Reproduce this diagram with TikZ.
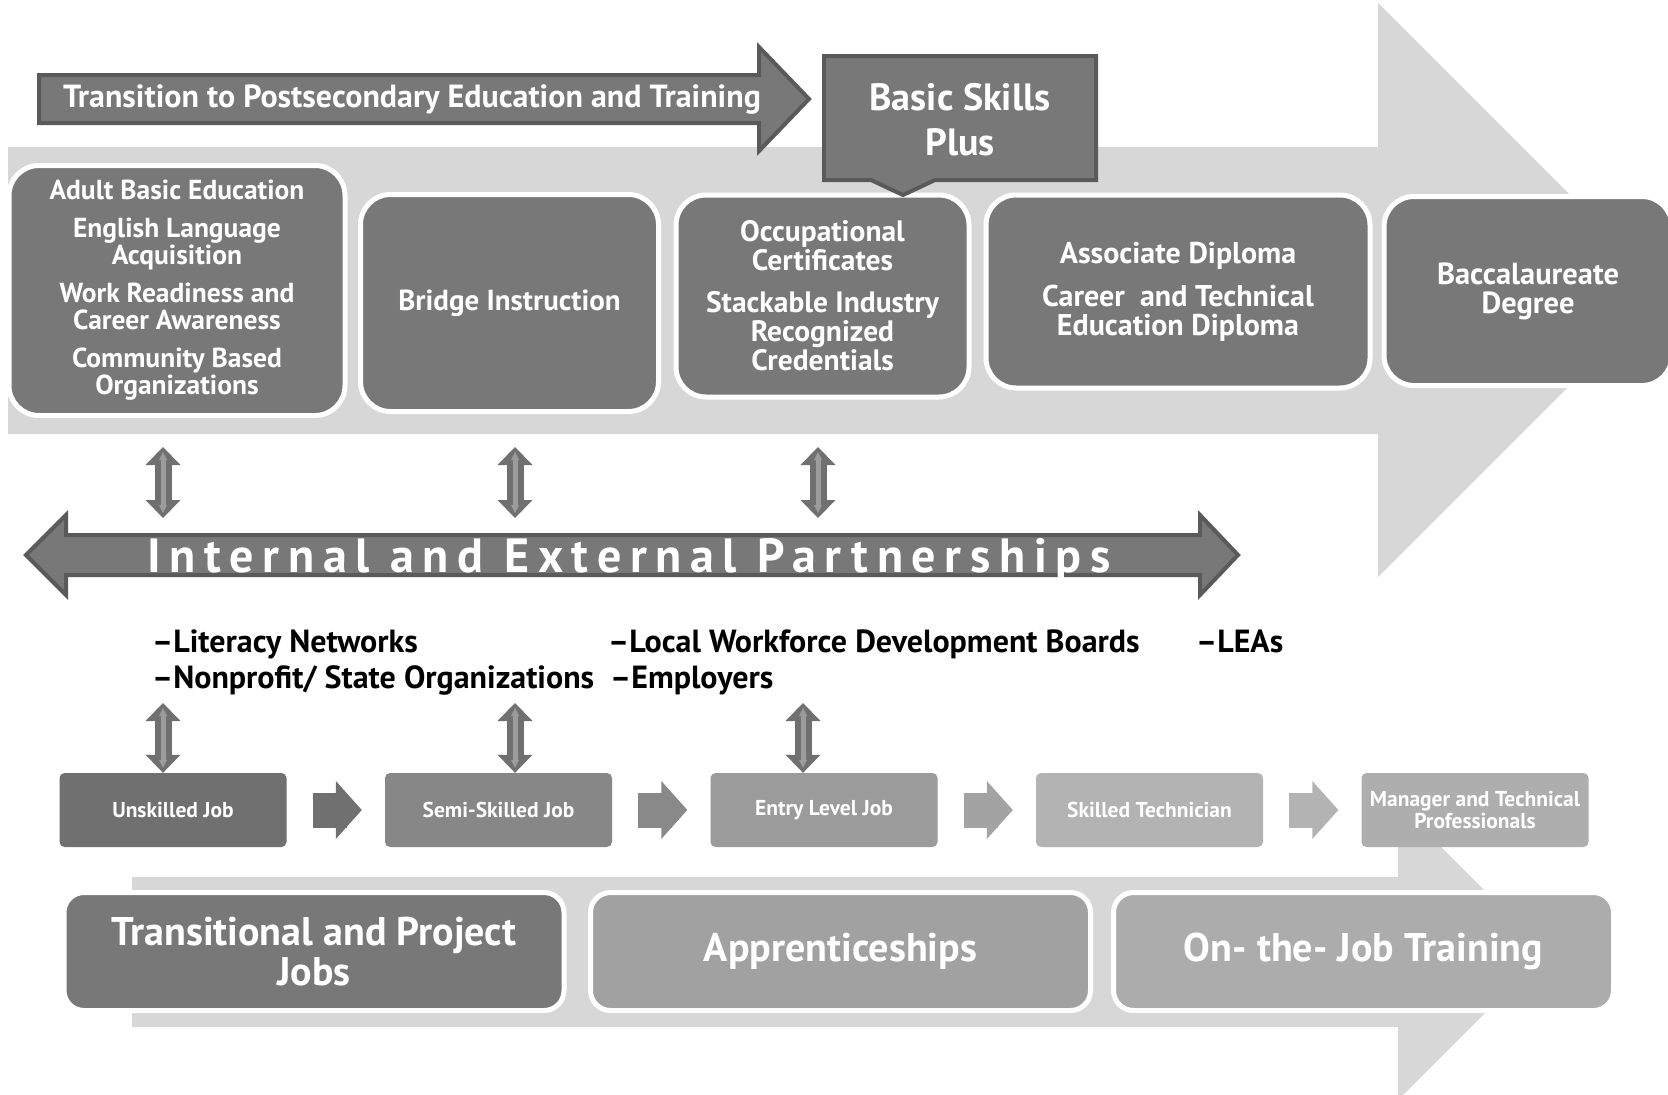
\documentclass[tikz,border=0pt]{standalone}
\usepackage{fontspec}
\setmainfont{PT Sans}
\usetikzlibrary{arrows.meta}

\definecolor{bg}{HTML}{D7D7D7}
\definecolor{mid}{HTML}{787878}
\definecolor{rim}{HTML}{5A5A5A}
\definecolor{lite}{HTML}{9C9C9C}
\definecolor{jobA}{HTML}{707070}
\definecolor{jobB}{HTML}{878787}
\definecolor{jobC}{HTML}{9B9B9B}
\definecolor{jobD}{HTML}{B3B3B3}
\definecolor{jobE}{HTML}{AEAEAE}
\definecolor{chevB}{HTML}{898989}
\definecolor{chevC}{HTML}{A3A3A3}
\definecolor{bandB}{HTML}{A1A1A1}
\definecolor{bandC}{HTML}{ACACAC}

\tikzset{
    ubox/.style={draw=white, line width=5pt, fill=mid, rounded corners=30pt, inner sep=0pt, text=white, align=center},
    jbox/.style={fill=#1, rounded corners=5pt, minimum width=227pt, minimum height=74pt, inner sep=0pt, text=white, align=center, font=\bfseries\fontsize{21.5}{22}\selectfont},
    lbox/.style={draw=white, line width=5pt, rounded corners=20pt, minimum width=500pt, minimum height=118pt, inner sep=0pt, text=white, align=center, font=\bfseries\fontsize{40}{40}\selectfont},
    flat/.style={draw=rim, line width=4pt, fill=mid, line join=miter},
    item/.style={anchor=base west, inner sep=0pt, font=\bfseries\fontsize{32}{36}\selectfont},
    vv/.style={line width=17pt, draw=jobA, {Triangle[width=35pt,length=18pt,line width=0pt]}-{Triangle[width=35pt,length=18pt,line width=0pt]}},
    vvin/.style={line width=5pt, draw=lite, shorten <=5pt, shorten >=5pt, {Triangle[width=8pt,length=8pt,line width=0pt]}-{Triangle[width=8pt,length=8pt,line width=0pt]}},
    chev/.style={line width=35pt, draw=#1, shorten <=26pt, shorten >=23pt, -{Triangle[width=58pt,length=26pt,line width=0pt]},
        postaction={draw=#1, line width=35pt, arrows=-, shorten <=26pt, shorten >=38pt}}
}

\begin{document}
\begin{tikzpicture}[x=1pt, y=-1pt]
    \clip (0,0) rectangle (1668,1095);
    \fill[white] (0,0) rectangle (1668,1095);

    \fill[bg] (8,147) -- (1378,147) -- (1378,3) -- (1665,290) -- (1378,577) -- (1378,434) -- (8,434) -- cycle;
    \fill[bg] (132,877) -- (1398,877) -- (1398,804) -- (1546,952) -- (1398,1100) -- (1398,1027) -- (132,1027) -- cycle;

    \draw[flat] (39,75) -- (759,75) -- (759,47) -- (809,99) -- (759,151) -- (759,123) -- (39,123) -- cycle;
    \node[text=white, font=\bfseries\fontsize{32}{34}\selectfont] (tr) at (412,100) {Transition to Postsecondary Education and Training};

    \node[ubox, minimum width=336pt, minimum height=250pt, font=\bfseries\fontsize{27.5}{27}\selectfont] (n0) at (177,290.5) {Adult Basic Education\\[11pt]English Language\\Acquisition\\[11pt]Work Readiness and\\Career Awareness\\[11pt]Community Based\\Organizations};
    \node[ubox, minimum width=298pt, minimum height=217pt, font=\bfseries\fontsize{29}{30}\selectfont] (n1) at (509.5,303) {Bridge Instruction};
    \node[ubox, minimum width=293pt, minimum height=202pt, font=\bfseries\fontsize{29.5}{29}\selectfont] (n2) at (822.5,296) {Occupational\\Certificates\\[13pt]Stackable Industry\\Recognized\\Credentials};
    \node[ubox, minimum width=384pt, minimum height=193pt, font=\bfseries\fontsize{30}{29}\selectfont] (n3) at (1178,291.5) {Associate Diploma\\[14pt]Career~ and Technical\\Education Diploma};
    \node[ubox, minimum width=288pt, minimum height=189pt, font=\bfseries\fontsize{30.5}{29}\selectfont] (n4) at (1528,291) {Baccalaureate\\Degree};

    \draw[flat] (824,56) -- (1096,56) -- (1096,180) -- (935,180) -- (903,195) -- (871,180) -- (824,180) -- cycle;
    \node[text=white, align=center, font=\bfseries\fontsize{38}{45}\selectfont] (bsp) at (960,120) {Basic Skills\\Plus};

    \coordinate (a0) at (163,447);
    \coordinate (a1) at (515,447);
    \coordinate (a2) at (818,447);
    \coordinate (b0) at (163,518);
    \coordinate (b1) at (515,518);
    \coordinate (b2) at (818,518);
    \draw[vv] (a0) -- (b0);
    \draw[vvin] (a0) -- (b0);
    \draw[vv] (a1) -- (b1);
    \draw[vvin] (a1) -- (b1);
    \draw[vv] (a2) -- (b2);
    \draw[vvin] (a2) -- (b2);

    \draw[flat] (26,555) -- (66,515) -- (66,535) -- (1200,535) -- (1200,515) -- (1238,555) -- (1200,595) -- (1200,575) -- (66,575) -- (66,595) -- cycle;
    \node[text=white, font=\bfseries\fontsize{48}{50}\selectfont\addfontfeature{LetterSpace=18}] (pt) at (629,560) {Internal and External Partnerships};

    \node[item] (l0) at (152,652) {\textendash Literacy Networks};
    \node[item] (l1) at (152,688) {\textendash Nonprofit/ State Organizations};
    \node[item] (l2) at (608,652) {\textendash Local Workforce Development Boards};
    \node[item] (l3) at (610,688) {\textendash Employers};
    \node[item] (l4) at (1196,652) {\textendash LEAs};

    \node[jbox=jobA] (j0) at (173,810) {Unskilled Job};
    \node[jbox=jobB] (j1) at (498.5,810) {Semi-Skilled Job};
    \node[jbox=jobC] (j2) at (824,810) {Entry Level Job};
    \node[jbox=jobD] (j3) at (1149.5,810) {Skilled Technician};
    \node[jbox=jobE] (j4) at (1475,810) {Manager and Technical\\Professionals};

    \draw[chev=jobA] (j0) -- (j1);
    \draw[chev=chevB] (j1) -- (j2);
    \draw[chev=chevC] (j2) -- (j3);
    \draw[chev=jobD] (j3) -- (j4);

    \coordinate (c0) at (163,703);
    \coordinate (c1) at (515,703);
    \coordinate (c2) at (803,703);
    \draw[vv] (c0) -- (c0 |- j0.north);
    \draw[vvin] (c0) -- (c0 |- j0.north);
    \draw[vv] (c1) -- (c1 |- j1.north);
    \draw[vvin] (c1) -- (c1 |- j1.north);
    \draw[vv] (c2) -- (c2 |- j2.north);
    \draw[vvin] (c2) -- (c2 |- j2.north);

    \node[lbox, fill=mid] (t0) at (314,951.5) {Transitional and Project\\Jobs};
    \node[lbox, fill=bandB] (t1) at (840.5,951.5) {Apprenticeships};
    \node[lbox, fill=bandC] (t2) at (1363.5,951.5) {On- the- Job Training};
\end{tikzpicture}
\end{document}
